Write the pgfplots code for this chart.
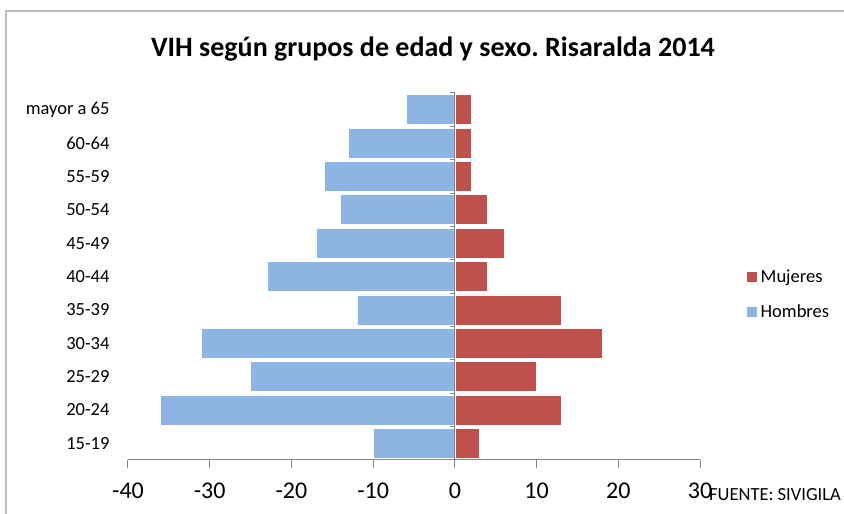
\documentclass[border=0pt]{standalone}
\usepackage{pgfplots}
\pgfplotsset{compat=1.18}
\usepackage{fontspec}
\setmainfont{Carlito}
\frenchspacing
\definecolor{muj}{HTML}{C0504D}
\definecolor{hom}{HTML}{8DB4E3}
\definecolor{axgray}{HTML}{868686}
\begin{document}
\begin{tikzpicture}[x=1pt,y=1pt]
\begin{axis}[
  at={(128pt,54pt)}, anchor=south west,
  scale only axis, width=572pt, height=367pt,
  xbar, bar shift=0pt, bar width=30pt,
  xmin=-40, xmax=30, ymin=-0.5, ymax=10.5,
  xtick={-40,-30,...,30},
  ytick={0,...,10},
  yticklabels={15-19,20-24,25-29,30-34,35-39,40-44,45-49,50-54,55-59,60-64,mayor a 65},
  axis x line*=bottom, axis y line*=left,
  y axis line style={draw=none},
  x axis line style={draw=axgray, line width=1pt},
  x tick style={draw=axgray, line width=1pt},
  y tick style={draw=none},
  tick align=outside, major tick length=8pt,
  xticklabel style={font=\fontsize{24}{28}\selectfont, yshift=-11pt},
  yticklabel style={font=\fontsize{18.5}{22}\selectfont, xshift=-7pt},
  /pgf/number format/assume math mode=true,
  legend style={draw=none, fill=none, at={(1.075,0.452)}, anchor=west,
    font=\fontsize{18.5}{22}\selectfont, row sep=17pt},
  legend cell align=left,
  legend image code/.code={\fill[#1] (0pt,-5.5pt) rectangle (11pt,5.5pt); \path (12pt,0pt);},
  clip=false,
]
\addplot[fill=muj, draw=white, line width=0.6pt] coordinates {
(3,0) (13,1) (10,2) (18,3) (13,4) (4,5) (6,6) (4,7) (2,8) (2,9) (2,10)};
\addlegendentry{Mujeres}
\addplot[fill=hom, draw=white, line width=0.6pt] coordinates {
(-10,0) (-36,1) (-25,2) (-31,3) (-12,4) (-23,5) (-17,6) (-14,7) (-16,8) (-13,9) (-6,10)};
\addlegendentry{Hombres}
\draw[axgray, line width=1pt] (axis cs:0,-0.5) -- (axis cs:0,10.5);
\pgfplotsinvokeforeach{-0.5,0.5,...,10.5}{\draw[axgray, line width=1pt] (axis cs:0,#1) -- ++(-5pt,0pt);}
\end{axis}
\node[font=\bfseries\fontsize{28}{32}\selectfont] at (433pt,465pt) {VIH según grupos de edad y sexo. Risaralda 2014};
\node[anchor=west, font=\fontsize{18.5}{22}\selectfont, inner sep=0pt] at (709pt,19pt) {FUENTE: SIVIGILA};
\draw[gray!50, line width=1.5pt] (6pt,-10pt) -- (6pt,503pt) -- (860pt,503pt);
\pgfresetboundingbox
\path[use as bounding box] (0,0) rectangle (844pt,514pt);
\end{tikzpicture}
\end{document}
